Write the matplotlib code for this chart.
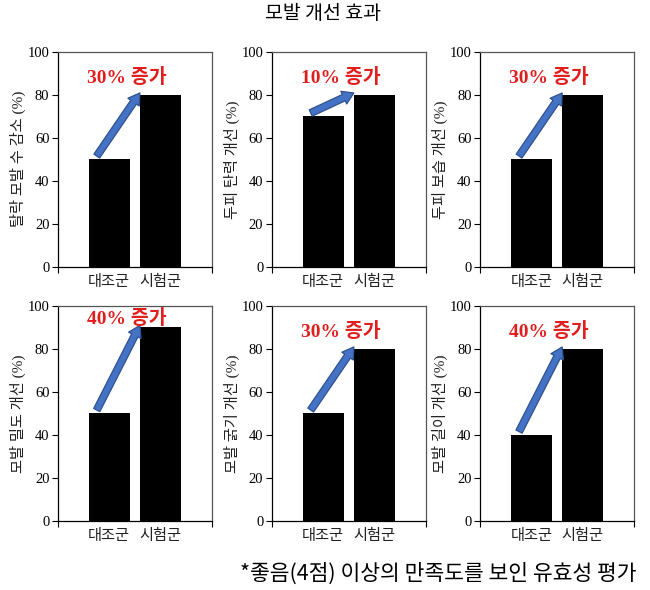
import matplotlib
matplotlib.use('Agg')
import matplotlib.pyplot as plt

plt.rcParams['font.family'] = ['Liberation Serif', 'Noto Sans CJK KR', 'DejaVu Sans']

groups = ['대조군', '시험군']
control = [50, 70, 50, 50, 50, 40]
treated = [80, 80, 80, 90, 80, 80]
ylabels = ['탈락 모발 수 감소 (%)', '두피 탄력 개선 (%)', '두피 보습 개선 (%)',
           '모발 밀도 개선 (%)', '모발 굵기 개선 (%)', '모발 길이 개선 (%)']
gains = ['30% 증가', '10% 증가', '30% 증가', '40% 증가', '30% 증가', '40% 증가']
yticks = [0, 20, 40, 60, 80, 100]

title = '모발 개선 효과'
note = '*좋음(4점) 이상의 만족도를 보인 유효성 평가'

kr = ['Noto Sans CJK KR', 'DejaVu Sans']
serif_kr = ['Liberation Serif', 'Noto Sans CJK KR']

fig = plt.figure(figsize=(6.5, 5.9), dpi=100)

lefts = [0.0888, 0.418, 0.7385]
bottoms = [0.5475, 0.117]
w, h = 0.237, 0.365

for i in range(6):
    ax = fig.add_axes([lefts[i % 3], bottoms[i // 3], w, h])
    x = [0, 1]
    ax.bar(x, [control[i], treated[i]], width=0.8, color='black')
    ax.set_xlim(-1, 2)
    ax.set_ylim(0, 100)
    ax.set_yticks(yticks)
    ax.tick_params(axis='y', direction='out', length=4, width=0.8, labelsize=10.5, pad=2)
    ax.set_xticks(x)
    ax.set_xticklabels(groups, family=kr, fontsize=11, fontweight='light', color='#222222')
    ax.tick_params(axis='x', length=0, pad=4)
    ax.set_xticks([-1, 2], minor=True)
    ax.tick_params(axis='x', which='minor', direction='out', length=4, width=0.8)
    for s in ['left', 'bottom']:
        ax.spines[s].set_color('black')
        ax.spines[s].set_linewidth(0.9)
    for s in ['top', 'right']:
        ax.spines[s].set_color('#555555')
        ax.spines[s].set_linewidth(0.9)
    ax.set_ylabel(ylabels[i], family=serif_kr, fontsize=11, labelpad=1, color='#222222')

    # increase arrow from control bar to treated bar
    ax.annotate('', xy=(0.6, treated[i] + 0.8), xytext=(-0.24, control[i] + 1.5),
                arrowprops=dict(arrowstyle='simple,head_width=1.0,head_length=0.8,tail_width=0.5',
                                fc='#4472C4', ec='#2F528F', lw=0.9,
                                shrinkA=0, shrinkB=0, mutation_scale=10))
    ax.text(0.34, min(treated[i] + 8, 94), gains[i], ha='center', va='center',
            family=serif_kr, fontsize=14, fontweight='bold', color='#E01E1E')

fig.text(0.497, 0.977, title, ha='center', va='center', family=kr, fontsize=14,
         fontweight='light')
fig.text(0.98, 0.027, note, ha='right', va='center', family=kr, fontsize=15.5,
         fontweight='light')

fig.savefig('out.png', dpi=100)
